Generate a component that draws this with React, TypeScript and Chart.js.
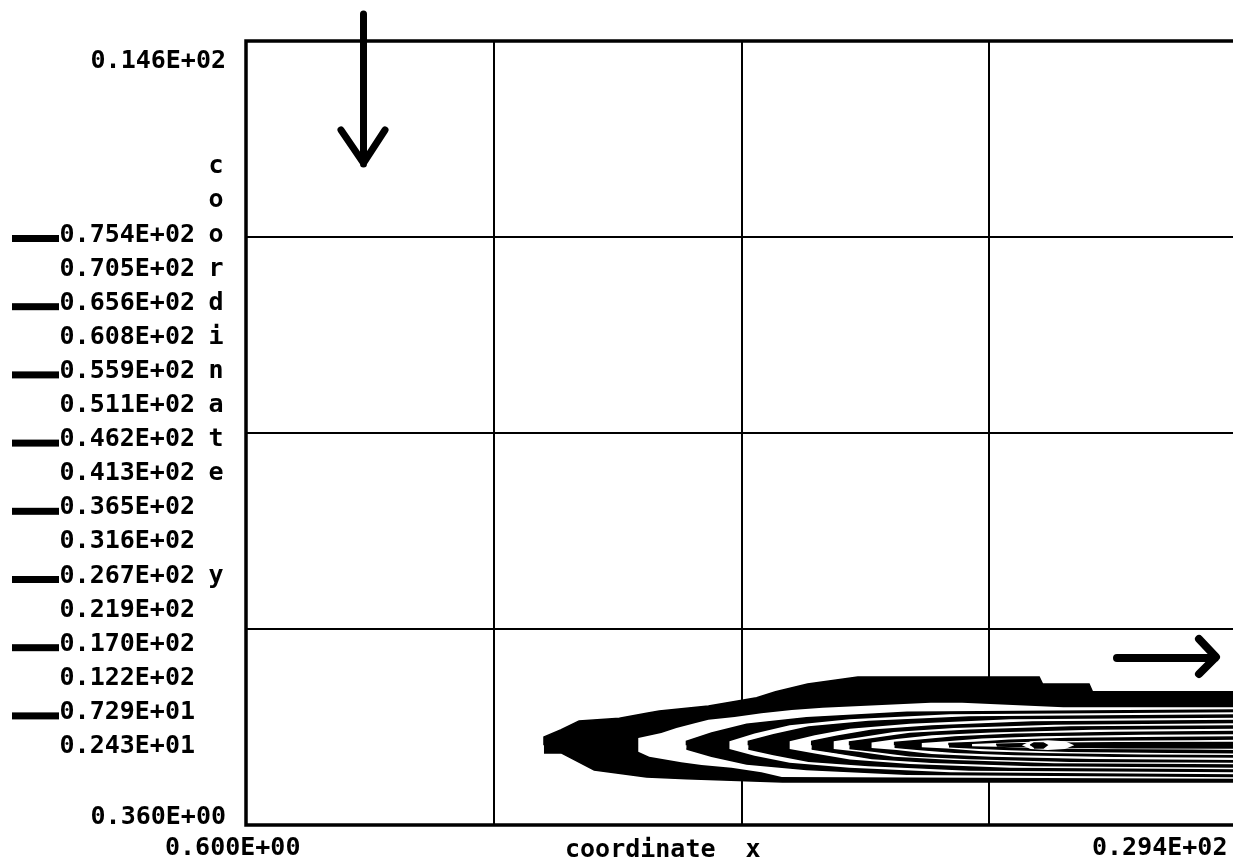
import React, { useEffect, useRef } from 'react';
import { Chart, registerables } from 'chart.js';

Chart.register(...registerables);

// ---- axes ----
const X_MIN = 0.6;
const X_MAX = 29.4;
const Y_MIN = 0.36;
const Y_MAX = 14.6;
const X_GRID = [0.6, 7.8, 15.0, 22.2, 29.4];
const Y_GRID = [0.36, 3.92, 7.48, 11.04, 14.6];
const X_TICK_LABELS = ['0.600E+00', '0.294E+02'];
const Y_TICK_LABELS = ['0.146E+02', '0.360E+00'];
const X_TITLE = 'coordinate  x';
const Y_TITLE = 'coordinate  y';

// ---- contour levels (legend) ----
const LEVEL_LABELS = [
  '0.754E+02', '0.705E+02', '0.656E+02', '0.608E+02', '0.559E+02', '0.511E+02',
  '0.462E+02', '0.413E+02', '0.365E+02', '0.316E+02', '0.267E+02', '0.219E+02',
  '0.170E+02', '0.122E+02', '0.729E+01', '0.243E+01',
];
const LEVEL_THICK = [
  true, false, true, false, true, false, true, false,
  true, false, true, false, true, false, true, false,
];

// ---- contour rings (outer -> inner), [x, y] ----
const RING_0 = [[9.26,1.81],[9.26,1.96],[9.76,2.09],[10.28,2.25],[11.45,2.30],[12.24,2.39],[12.61,2.43],[14.04,2.52],[15.44,2.67],[15.99,2.78],[16.92,2.92],[18.38,3.05],[23.65,3.05],[23.75,2.92],[25.10,2.92],[25.20,2.78],[30,2.78],[30,1.14],[16.19,1.14],[13.40,1.20],[12.24,1.23],[10.72,1.36],[9.76,1.67],[9.26,1.67]];
const RING_1 = [[12.00,1.81],[12.00,1.94],[12.67,2.03],[13.11,2.12],[13.64,2.21],[14.04,2.27],[14.80,2.32],[15.58,2.39],[16.46,2.45],[17.36,2.49],[20.50,2.58],[21.41,2.58],[24.35,2.50],[30,2.50],[30,1.20],[16.17,1.23],[15.58,1.32],[14.71,1.40],[13.84,1.45],[13.25,1.50],[12.32,1.60],[12.00,1.69]];
const RING_2 = [[13.40,1.81],[13.40,1.88],[14.13,2.03],[15.15,2.19],[16.89,2.31],[19.81,2.41],[30,2.45],[30,1.24],[19.81,1.28],[16.89,1.37],[15.15,1.47],[14.13,1.61],[13.40,1.74]];
const RING_3 = [[14.65,1.81],[14.65,1.88],[15.38,2.02],[16.40,2.17],[18.14,2.28],[21.06,2.37],[30,2.41],[30,1.28],[21.06,1.32],[18.14,1.40],[16.40,1.49],[15.38,1.62],[14.65,1.74]];
const RING_4 = [[15.20,1.81],[15.20,1.88],[15.93,2.00],[16.95,2.14],[18.69,2.24],[21.61,2.32],[30,2.36],[30,1.33],[21.61,1.36],[18.69,1.44],[16.95,1.52],[15.93,1.64],[15.20,1.74]];
const RING_5 = [[16.40,1.81],[16.40,1.88],[17.13,1.99],[18.15,2.11],[19.89,2.20],[22.81,2.28],[30,2.31],[30,1.37],[22.81,1.40],[19.89,1.47],[18.15,1.55],[17.13,1.66],[16.40,1.74]];
const RING_6 = [[17.04,1.81],[17.04,1.88],[17.77,1.97],[18.79,2.08],[20.53,2.16],[23.45,2.23],[30,2.26],[30,1.41],[23.45,1.44],[20.53,1.50],[18.79,1.57],[17.77,1.67],[17.04,1.74]];
const RING_7 = [[17.68,1.81],[17.68,1.88],[18.41,1.95],[19.43,2.05],[21.17,2.12],[24.09,2.18],[30,2.21],[30,1.46],[24.09,1.48],[21.17,1.54],[19.43,1.60],[18.41,1.69],[17.68,1.74]];
const RING_8 = [[18.14,1.81],[18.14,1.87],[18.87,1.93],[19.89,2.02],[21.63,2.08],[24.55,2.14],[30,2.16],[30,1.50],[24.55,1.52],[21.63,1.57],[19.89,1.62],[18.87,1.70],[18.14,1.75]];
const RING_9 = [[18.78,1.81],[18.78,1.86],[19.51,1.92],[20.53,1.99],[22.27,2.04],[25.19,2.09],[30,2.11],[30,1.54],[25.19,1.56],[22.27,1.60],[20.53,1.65],[19.51,1.72],[18.78,1.76]];
const RING_10 = [[19.45,1.81],[19.45,1.86],[20.18,1.90],[21.20,1.96],[22.94,2.01],[25.86,2.04],[30,2.06],[30,1.59],[25.86,1.61],[22.94,1.64],[21.20,1.68],[20.18,1.73],[19.45,1.77]];
const RING_11 = [[20.24,1.81],[20.24,1.85],[20.97,1.88],[21.99,1.93],[23.73,1.97],[26.65,2.00],[30,2.01],[30,1.63],[26.65,1.64],[23.73,1.67],[21.99,1.70],[20.97,1.75],[20.24,1.77]];
const RING_12 = [[21.03,1.81],[21.03,1.84],[21.76,1.86],[22.78,1.90],[24.52,1.93],[27.44,1.95],[30,1.96],[30,1.67],[27.44,1.68],[24.52,1.70],[22.78,1.73],[21.76,1.76],[21.03,1.78]];
const RING_13 = [[21.70,1.81],[21.70,1.83],[22.43,1.85],[23.45,1.87],[25.19,1.89],[28.11,1.90],[30,1.91],[30,1.72],[28.11,1.73],[25.19,1.74],[23.45,1.76],[22.43,1.78],[21.70,1.79]];
const RING_14 = [[22.42,1.81],[22.42,1.825],[23.15,1.835],[24.17,1.845],[25.91,1.855],[30,1.86],[30,1.76],[25.91,1.765],[24.17,1.775],[23.15,1.785],[22.42,1.795]];
const RING_15 = [[23.15,1.81],[23.40,1.88],[23.90,1.90],[24.40,1.88],[24.67,1.81],[24.40,1.74],[23.90,1.72],[23.40,1.74]];
const RING_16 = [[23.39,1.81],[23.50,1.85],[23.77,1.85],[23.88,1.81],[23.77,1.76],[23.50,1.76]];

const RINGS = [RING_0, RING_1, RING_2, RING_3, RING_4, RING_5, RING_6, RING_7, RING_8,
  RING_9, RING_10, RING_11, RING_12, RING_13, RING_14, RING_15, RING_16];

const FONT = 'bold 25px "DejaVu Sans Mono"';

const decorPlugin = {
  id: 'decor',
  afterDraw(chart: any) {
    const ctx = chart.ctx;
    const a = chart.chartArea;
    ctx.save();
    // frame
    ctx.strokeStyle = '#000';
    ctx.lineWidth = 3.5;
    ctx.strokeRect(a.left, a.top, a.right - a.left, a.bottom - a.top);

    ctx.fillStyle = '#000';
    ctx.font = FONT;
    ctx.textBaseline = 'middle';

    // y tick labels
    ctx.textAlign = 'right';
    ctx.fillText(Y_TICK_LABELS[0], 226, a.top + 20);
    ctx.fillText(Y_TICK_LABELS[1], 226, a.bottom - 8);

    // level legend
    const rowH = 34.1;
    const row0 = 235;
    LEVEL_LABELS.forEach((lab, i) => {
      const yy = row0 + rowH * i;
      ctx.textAlign = 'right';
      ctx.fillText(lab, 195, yy);
      if (LEVEL_THICK[i]) {
        ctx.fillRect(12, yy, 47, 7);
      }
    });

    // vertical y title
    ctx.textAlign = 'center';
    for (let i = 0; i < Y_TITLE.length; i++) {
      const ch = Y_TITLE[i];
      if (ch !== ' ') ctx.fillText(ch, 216, row0 + rowH * (i - 2));
    }

    // x labels and title
    ctx.textAlign = 'left';
    ctx.fillText(X_TICK_LABELS[0], 165, 848);
    ctx.fillText(X_TICK_LABELS[1], 1092, 848);
    ctx.fillText(X_TITLE, 565, 850);

    // arrows
    ctx.lineCap = 'round';
    ctx.lineJoin = 'round';
    ctx.lineWidth = 7;
    ctx.beginPath();
    ctx.moveTo(363.5, 14);
    ctx.lineTo(363.5, 164);
    ctx.moveTo(341, 130);
    ctx.lineTo(363.5, 163);
    ctx.lineTo(385, 130);
    ctx.stroke();

    ctx.lineWidth = 8;
    ctx.beginPath();
    ctx.moveTo(1117, 658);
    ctx.lineTo(1215, 658);
    ctx.moveTo(1199, 639);
    ctx.lineTo(1216, 657);
    ctx.lineTo(1199, 674);
    ctx.stroke();
    ctx.restore();
  },
};

export default function App() {
  const ref = useRef<HTMLCanvasElement>(null);
  useEffect(() => {
    const canvas = ref.current;
    if (!canvas) return;
    const datasets = RINGS.map((ring, k) => {
      const black = k % 2 === 0;
      const col = black ? '#000000' : '#ffffff';
      return {
        data: ring.map(([x, y]) => ({ x, y })),
        borderColor: col,
        backgroundColor: col,
        borderWidth: black ? 1.5 : 0,
        pointRadius: 0,
        fill: 'shape',
        tension: 0,
        order: 100 - k,
      };
    });
    const chart = new Chart(canvas, {
      type: 'line',
      data: { datasets } as any,
      options: {
        responsive: false,
        animation: false,
        events: [],
        layout: { padding: { left: 246, top: 41, right: 3, bottom: 38 } },
        plugins: { legend: { display: false }, tooltip: { enabled: false } },
        scales: {
          x: {
            type: 'linear',
            min: X_MIN,
            max: X_MAX,
            z: 1,
            border: { display: false },
            ticks: { display: false },
            grid: { color: '#000', lineWidth: 2, drawTicks: false },
            afterBuildTicks: (s: any) => { s.ticks = X_GRID.map((v) => ({ value: v })); },
          },
          y: {
            type: 'linear',
            min: Y_MIN,
            max: Y_MAX,
            z: 1,
            border: { display: false },
            ticks: { display: false },
            grid: { color: '#000', lineWidth: 2, drawTicks: false },
            afterBuildTicks: (s: any) => { s.ticks = Y_GRID.map((v) => ({ value: v })); },
          },
        },
      } as any,
      plugins: [decorPlugin],
    });
    return () => chart.destroy();
  }, []);
  return (
    <div style={{ position: 'fixed', left: 0, top: 0, width: 1233, height: 863, overflow: 'hidden', background: '#fff' }}>
      <canvas ref={ref} width={1240} height={863} style={{ width: 1240, height: 863, display: 'block' }} />
    </div>
  );
}
